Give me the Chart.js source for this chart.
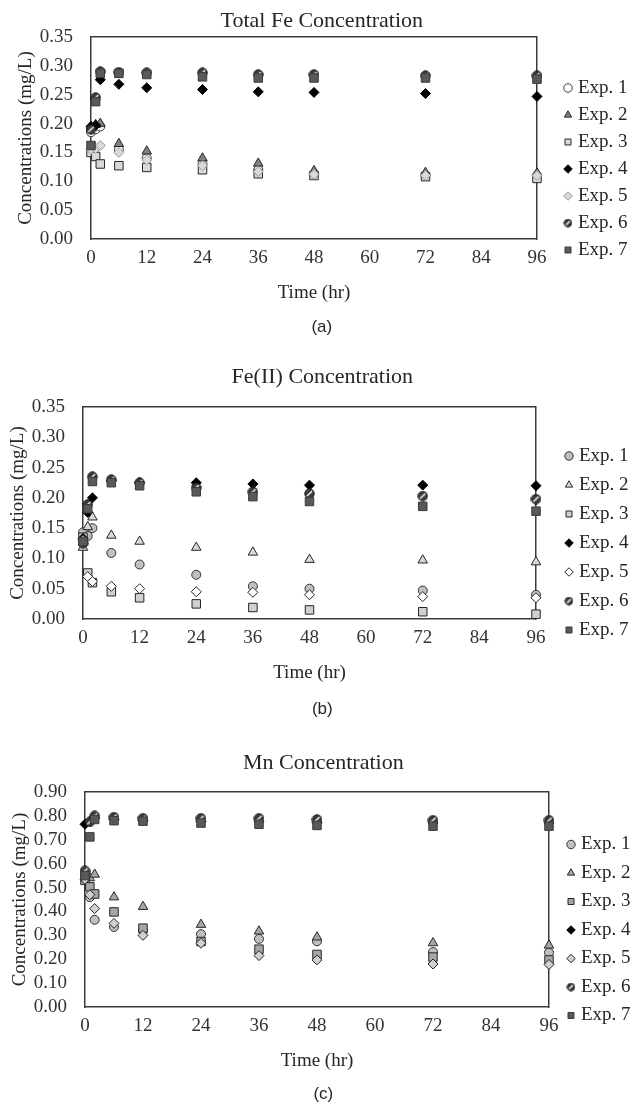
<!DOCTYPE html>
<html>
<head>
<meta charset="utf-8">
<script src="https://cdn.jsdelivr.net/npm/chart.js@4.4.1/dist/chart.umd.min.js"></script>
<style>
  body { margin: 0; background: #fff; }
  canvas { position: absolute; left: 0; }
</style>
</head>
<body>
<canvas id="totalFeChart" width="632" height="338" style="top:0px"></canvas>
<canvas id="ferrousChart" width="632" height="354" style="top:366px"></canvas>
<canvas id="mnChart" width="632" height="350" style="top:755px"></canvas>
<script>
// sampling times (hr)
const hours = [0, 1, 2, 6, 12, 24, 36, 48, 72, 96];
const expLabels = ['Exp. 1', 'Exp. 2', 'Exp. 3', 'Exp. 4', 'Exp. 5', 'Exp. 6', 'Exp. 7'];

// (a) Total Fe, mg/L
const totalFe1 = [0.185, 0.190, 0.195, 0.155, 0.140, 0.130, 0.120, 0.112, 0.110, 0.110];
const totalFe2 = [0.195, 0.198, 0.200, 0.165, 0.152, 0.140, 0.131, 0.118, 0.115, 0.114];
const totalFe3 = [0.150, 0.143, 0.130, 0.127, 0.124, 0.120, 0.113, 0.110, 0.108, 0.105];
const totalFe4 = [0.195, 0.197, 0.276, 0.268, 0.262, 0.259, 0.255, 0.254, 0.252, 0.247];
const totalFe5 = [0.155, 0.157, 0.162, 0.150, 0.137, 0.127, 0.117, 0.112, 0.110, 0.110];
const totalFe6 = [0.190, 0.245, 0.290, 0.289, 0.288, 0.288, 0.285, 0.285, 0.283, 0.283];
const totalFe7 = [0.162, 0.238, 0.287, 0.287, 0.285, 0.281, 0.279, 0.279, 0.279, 0.277];

// (b) Fe(II), mg/L
const ferrous1 = [0.143, 0.137, 0.150, 0.109, 0.090, 0.073, 0.054, 0.050, 0.047, 0.040];
const ferrous2 = [0.118, 0.152, 0.168, 0.138, 0.128, 0.118, 0.110, 0.098, 0.097, 0.094];
const ferrous3 = [0.135, 0.076, 0.060, 0.045, 0.035, 0.025, 0.019, 0.015, 0.012, 0.008];
const ferrous4 = [0.133, 0.176, 0.200, 0.228, 0.225, 0.225, 0.223, 0.221, 0.221, 0.220];
const ferrous5 = [0.130, 0.070, 0.062, 0.054, 0.050, 0.045, 0.044, 0.040, 0.037, 0.035];
const ferrous6 = [0.125, 0.189, 0.235, 0.230, 0.225, 0.217, 0.210, 0.207, 0.203, 0.198];
const ferrous7 = [0.128, 0.182, 0.227, 0.225, 0.220, 0.210, 0.202, 0.194, 0.186, 0.178];

// (c) Mn, mg/L
const mn1 = [0.550, 0.460, 0.365, 0.335, 0.320, 0.305, 0.285, 0.275, 0.230, 0.228];
const mn2 = [0.540, 0.540, 0.555, 0.460, 0.420, 0.345, 0.317, 0.292, 0.268, 0.258];
const mn3 = [0.530, 0.503, 0.473, 0.398, 0.330, 0.274, 0.242, 0.220, 0.209, 0.197];
const mn4 = [0.765, 0.775, 0.790, 0.785, 0.780, 0.777, 0.775, 0.772, 0.770, 0.770];
const mn5 = [0.535, 0.470, 0.412, 0.350, 0.300, 0.267, 0.215, 0.197, 0.180, 0.178];
const mn6 = [0.570, 0.775, 0.800, 0.795, 0.790, 0.790, 0.790, 0.785, 0.782, 0.782];
const mn7 = [0.550, 0.712, 0.785, 0.780, 0.778, 0.770, 0.765, 0.760, 0.757, 0.757];

Chart.defaults.font.family = '"Liberation Serif", "Times New Roman", serif';
Chart.defaults.color = '#262626';

// circle with a white slash, used for Exp. 6
function hatchMarker(size) {
  const c = document.createElement('canvas');
  c.width = size; c.height = size;
  const g = c.getContext('2d');
  const m = size / 2, r = size / 2 - 0.8;
  g.beginPath();
  g.arc(m, m, r, 0, Math.PI * 2);
  g.fillStyle = '#3c3c3c';
  g.fill();
  g.lineWidth = 1;
  g.strokeStyle = '#111';
  g.stroke();
  g.beginPath();
  g.moveTo(m - r * 0.55, m + r * 0.55);
  g.lineTo(m + r * 0.55, m - r * 0.55);
  g.strokeStyle = '#fff';
  g.lineWidth = 1.4;
  g.stroke();
  return c;
}
const hatchBig = hatchMarker(11);
const hatchSmall = hatchMarker(9);

const shapes = ['circle', 'triangle', 'rect', 'rectRot', 'rectRot', hatchBig, 'rect'];
const radii = [4.5, 5.5, 6, 5, 5, 5, 6];

const fillsA = ['#f4f4f4', '#808080', '#d9d9d9', '#000000', '#d9d9d9', '#3c3c3c', '#595959'];
const edgesA = ['#3a3a3a', '#262626', '#262626', '#000000', '#9a9a9a', '#111111', '#3a3a3a'];
const fillsB = ['#bfbfbf', '#d9d9d9', '#d0d0d0', '#000000', '#ffffff', '#3c3c3c', '#595959'];
const edgesB = ['#333333', '#262626', '#262626', '#000000', '#262626', '#111111', '#3a3a3a'];
const fillsC = ['#bfbfbf', '#a6a6a6', '#a6a6a6', '#000000', '#d0d0d0', '#3c3c3c', '#595959'];
const edgesC = edgesB;

const frameColor = '#3a3a3a';

function buildSets(series, fills, edges) {
  return series.map((vals, i) => ({
    label: expLabels[i],
    data: vals.map((v, k) => ({ x: hours[k], y: v })),
    pointStyle: shapes[i],
    pointRadius: radii[i],
    pointHoverRadius: radii[i],
    backgroundColor: fills[i],
    borderColor: edges[i],
    pointBorderWidth: 1,
    order: series.length - i,
    clip: false
  }));
}

function drawPanel(id, p) {
  new Chart(document.getElementById(id), {
    type: 'scatter',
    data: { datasets: buildSets(p.series, p.fills, p.edges) },
    options: {
      responsive: false,
      animation: false,
      events: [],
      layout: { padding: { left: 6, right: p.padR, top: 0, bottom: 0 } },
      plugins: {
        title: {
          display: true,
          text: p.title,
          font: { size: 22, weight: 'normal', lineHeight: 1 },
          padding: { top: p.titleTop, bottom: p.titleBottom }
        },
        subtitle: {
          display: true,
          position: 'bottom',
          text: p.caption,
          font: { family: '"Liberation Sans", Arial, sans-serif', size: 17, lineHeight: 1.2 },
          padding: { top: p.captionTop, bottom: 0 }
        },
        legend: {
          position: 'right',
          align: 'center',
          labels: {
            usePointStyle: true,
            boxWidth: 1,
            boxHeight: 6,
            padding: p.legendPad,
            font: { size: 19 },
            color: '#262626',
            generateLabels: chart => chart.data.datasets.map((ds, i) => ({
              text: ds.label,
              datasetIndex: i,
              pointStyle: i === 5 ? hatchSmall : ds.pointStyle,
              fillStyle: p.legendFills[i],
              strokeStyle: ds.borderColor,
              lineWidth: 1,
              hidden: false,
              fontColor: '#262626'
            })),
            sort: (a, b) => a.datasetIndex - b.datasetIndex
          }
        },
        tooltip: { enabled: false }
      },
      scales: {
        x: {
          type: 'linear',
          min: 0, max: 96,
          grid: { display: false, drawTicks: false },
          border: { display: true, color: frameColor, width: 1.5 },
          ticks: { stepSize: 12, autoSkip: false, padding: 8, font: { size: 19 }, color: '#333' },
          title: { display: true, text: 'Time (hr)', font: { size: 19 }, padding: { top: 4, bottom: 0 } }
        },
        y: {
          type: 'linear',
          min: 0, max: p.yMax,
          grid: { display: false, drawTicks: false },
          border: { display: true, color: frameColor, width: 1.5 },
          ticks: {
            stepSize: p.yStep, autoSkip: false, padding: 18, font: { size: 19 }, color: '#333',
            callback: v => v.toFixed(2)
          },
          title: {
            display: true, text: 'Concentrations (mg/L)',
            font: { size: 19, lineHeight: 1 }, padding: { top: p.yTitlePad, bottom: 0 }
          },
          afterFit: s => { s.width = p.yWidth; }
        },
        // right and top frame lines
        yFrame: {
          type: 'linear', position: 'right', display: true,
          grid: { display: false, drawTicks: false },
          border: { display: true, color: frameColor, width: 1.5 },
          ticks: { display: false },
          afterFit: s => { s.width = p.gap; }
        },
        xFrame: {
          type: 'linear', position: 'top', display: true,
          grid: { display: false, drawTicks: false },
          border: { display: true, color: frameColor, width: 1.5 },
          ticks: { display: false },
          afterFit: s => { s.height = 0; }
        }
      }
    }
  });
}

drawPanel('totalFeChart', {
  series: [totalFe1, totalFe2, totalFe3, totalFe4, totalFe5, totalFe6, totalFe7],
  fills: fillsA, edges: edgesA,
  legendFills: ['#ffffff', '#808080', '#d9d9d9', '#000000', '#d9d9d9', '#3c3c3c', '#595959'],
  title: 'Total Fe Concentration', caption: '(a)',
  titleTop: 10, titleBottom: 5, captionTop: 13,
  yMax: 0.35, yStep: 0.05, yWidth: 85, yTitlePad: 10.5,
  padR: -5.6, gap: 22.5, legendPad: 8
});

drawPanel('ferrousChart', {
  series: [ferrous1, ferrous2, ferrous3, ferrous4, ferrous5, ferrous6, ferrous7],
  fills: fillsB, edges: edgesB,
  legendFills: fillsB,
  title: 'Fe(II) Concentration', caption: '(b)',
  titleTop: 0, titleBottom: 19, captionTop: 15,
  yMax: 0.35, yStep: 0.05, yWidth: 77, yTitlePad: 2.5,
  padR: -6.6, gap: 22.5, legendPad: 10
});

drawPanel('mnChart', {
  series: [mn1, mn2, mn3, mn4, mn5, mn6, mn7],
  fills: fillsC, edges: edgesC,
  legendFills: fillsC,
  title: 'Mn Concentration', caption: '(c)',
  titleTop: -3, titleBottom: 18, captionTop: 12,
  yMax: 0.9, yStep: 0.1, yWidth: 79, yTitlePad: 4.5,
  padR: -8.6, gap: 12, legendPad: 9.5
});
</script>
</body>
</html>
